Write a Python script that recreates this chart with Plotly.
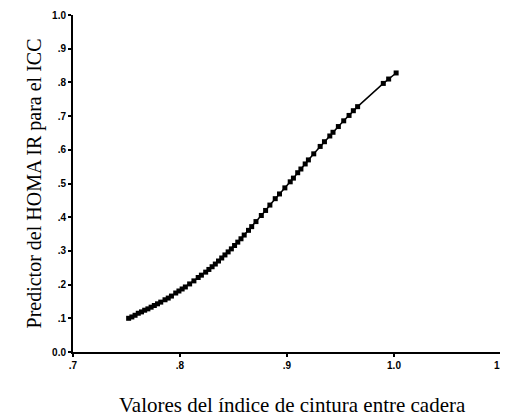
import plotly.graph_objects as go

# Data
icc_values = [.752, .755, .758, .761, .764, .767, .770, .773, .776, .779, .782, .786, .789, .792, .796,
              .799, .802, .805, .809, .813, .817, .820, .824, .827, .830, .833, .836, .839, .842, .845,
              .848, .851, .854, .857, .860, .864, .867, .871, .876, .880, .884, .889, .893, .898, .903,
              .906, .910, .913, .917, .920, .925, .931, .935, .940, .943, .948, .953, .958, .962, .966,
              .990, .995, 1.002]
homa_pred = [.100, .104, .109, .115, .119, .124, .128, .133, .138, .143, .148, .155, .160, .166, .175,
             .181, .187, .193, .202, .211, .221, .228, .237, .245, .253, .261, .270, .279, .288, .297,
             .306, .316, .326, .336, .347, .361, .372, .387, .405, .420, .436, .455, .469, .487, .505,
             .516, .532, .543, .558, .570, .588, .610, .624, .641, .652, .669, .686, .702, .716, .728,
             .797, .810, .828]

x_tickvals = [0.7, 0.8, 0.9, 1.0, 1.1]
x_ticktext = [".7", ".8", ".9", "1.0", "1.1"]
y_tickvals = [0.0, 0.1, 0.2, 0.3, 0.4, 0.5, 0.6, 0.7, 0.8, 0.9, 1.0]
y_ticktext = ["0.0", ".1", ".2", ".3", ".4", ".5", ".6", ".7", ".8", ".9", "1.0"]

x_title = "Valores del índice de cintura entre cadera"
y_title = "Predictor del HOMA IR para el ICC"

fig = go.Figure()
fig.add_trace(go.Scatter(
    x=icc_values, y=homa_pred, mode="lines+markers",
    line=dict(color="black", width=1.5),
    marker=dict(symbol="square", size=5, color="black"),
    showlegend=False,
))

tick_font = dict(family="Liberation Sans, Arial, sans-serif", size=10, color="black", weight="bold")
title_font = dict(family="Liberation Serif, Times New Roman, serif", size=20, color="black")
fig.update_layout(
    width=508, height=420,
    margin=dict(l=65, r=15, t=7, b=76),
    paper_bgcolor="white", plot_bgcolor="white",
    xaxis=dict(range=[0.7, 1.1], tickvals=x_tickvals, ticktext=x_ticktext, automargin=False,
               showgrid=False, zeroline=False, showline=True, linecolor="black", linewidth=2,
               ticks="outside", ticklen=3, tickwidth=1.5, tickcolor="black", tickfont=tick_font),
    yaxis=dict(range=[0, 1.0], tickvals=y_tickvals, ticktext=y_ticktext, automargin=False,
               showgrid=False, zeroline=False, showline=True, linecolor="black", linewidth=2,
               ticks="outside", ticklen=3, tickwidth=1.5, tickcolor="black", tickfont=tick_font,
               title=dict(text=y_title, standoff=5, font=title_font)),
    annotations=[dict(text=x_title, xref="paper", yref="paper", x=0.514, y=-0.157,
                      xanchor="center", yanchor="middle", showarrow=False,
                      font=dict(family="Liberation Serif, Times New Roman, serif", size=21, color="black"))],
)

fig.write_html("out.html")
